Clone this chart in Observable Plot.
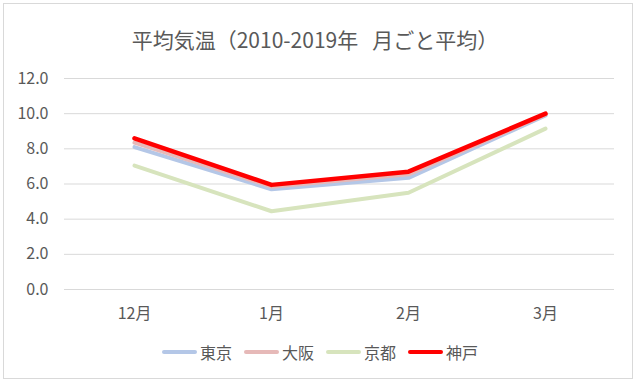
<!DOCTYPE html>
<html><head><meta charset="utf-8">
<script src="https://cdn.jsdelivr.net/npm/d3@7"></script>
<script src="https://cdn.jsdelivr.net/npm/@observablehq/plot@0.6"></script>
<style>
html,body{margin:0;padding:0;background:#fff;}
#wrap{position:relative;width:636px;height:382px;background:#fff;font-family:"Noto Sans CJK JP","Noto Sans",sans-serif;color:#595959;overflow:hidden;}
#frame{position:absolute;left:3px;top:3px;width:630px;height:376px;border:1px solid #d9d9d9;box-sizing:border-box;}
#title{position:absolute;left:0;top:24px;width:630px;text-align:center;font-size:21px;line-height:30px;color:#595959;}
#chart{position:absolute;left:0;top:60px;}
#legend{position:absolute;left:0;top:340px;width:640px;display:flex;justify-content:center;align-items:center;font-size:16px;line-height:24px;color:#595959;}
.item{display:flex;align-items:center;margin:0 6px;}
.sw{width:35px;height:4px;border-radius:2px;margin-right:3px;}
</style></head>
<body>
<div id="wrap">
  <div id="frame"></div>
  <div id="title">平均気温（2010-2019年&nbsp;&nbsp;&nbsp;月ごと平均）</div>
  <div id="chart"></div>
  <div id="legend"></div>
</div>
<script>
const months = ["12月", "1月", "2月", "3月"];
const seriesNames = ["東京", "大阪", "京都", "神戸"];
const tokyo = [8.1, 5.7, 6.35, 9.9];
const osaka = [8.35, 5.85, 6.55, 9.95];
const kyoto = [7.05, 4.45, 5.5, 9.15];
const kobe = [8.6, 5.95, 6.7, 10.0];
const yTicks = [0, 2, 4, 6, 8, 10, 12];
const colors = ["#b4c7e7", "#e6b9b8", "#d7e4bd", "#ff0000"];
const widths = [4, 4, 4, 4.5];

const allValues = [tokyo, osaka, kyoto, kobe];
const data = [];
seriesNames.forEach((s, i) => months.forEach((m, j) => data.push({series: s, month: m, value: allValues[i][j]})));

const lineMarks = seriesNames.map((s, i) =>
  Plot.line(data.filter(d => d.series === s), {
    x: "month", y: "value", stroke: colors[i], strokeWidth: widths[i],
    strokeLinejoin: "round", strokeLinecap: "round"
  })
);

const chart = Plot.plot({
  width: 636,
  height: 270,
  marginLeft: 64,
  marginRight: 22,
  marginTop: 18,
  marginBottom: 41,
  style: {fontFamily: '"Noto Sans CJK JP","Noto Sans",sans-serif', fontSize: "16px", color: "#595959", background: "transparent"},
  x: {type: "point", domain: months, padding: 0.5, label: null},
  y: {domain: [0, 12], label: null},
  marks: [
    Plot.ruleY(yTicks, {stroke: "#d9d9d9", strokeWidth: 1}),
    Plot.axisY({ticks: yTicks, tickSize: 0, tickPadding: 16, tickFormat: d3.format(".1f"), label: null, fill: "#595959"}),
    Plot.axisX({tickSize: 0, tickPadding: 18, label: null, fill: "#595959"}),
    ...lineMarks
  ]
});
document.getElementById("chart").appendChild(chart);

const legend = document.getElementById("legend");
seriesNames.forEach((s, i) => {
  const it = document.createElement("div");
  it.className = "item";
  const sw = document.createElement("div");
  sw.className = "sw";
  sw.style.background = colors[i];
  const t = document.createElement("span");
  t.textContent = s;
  it.appendChild(sw); it.appendChild(t);
  legend.appendChild(it);
});
</script>
</body></html>
